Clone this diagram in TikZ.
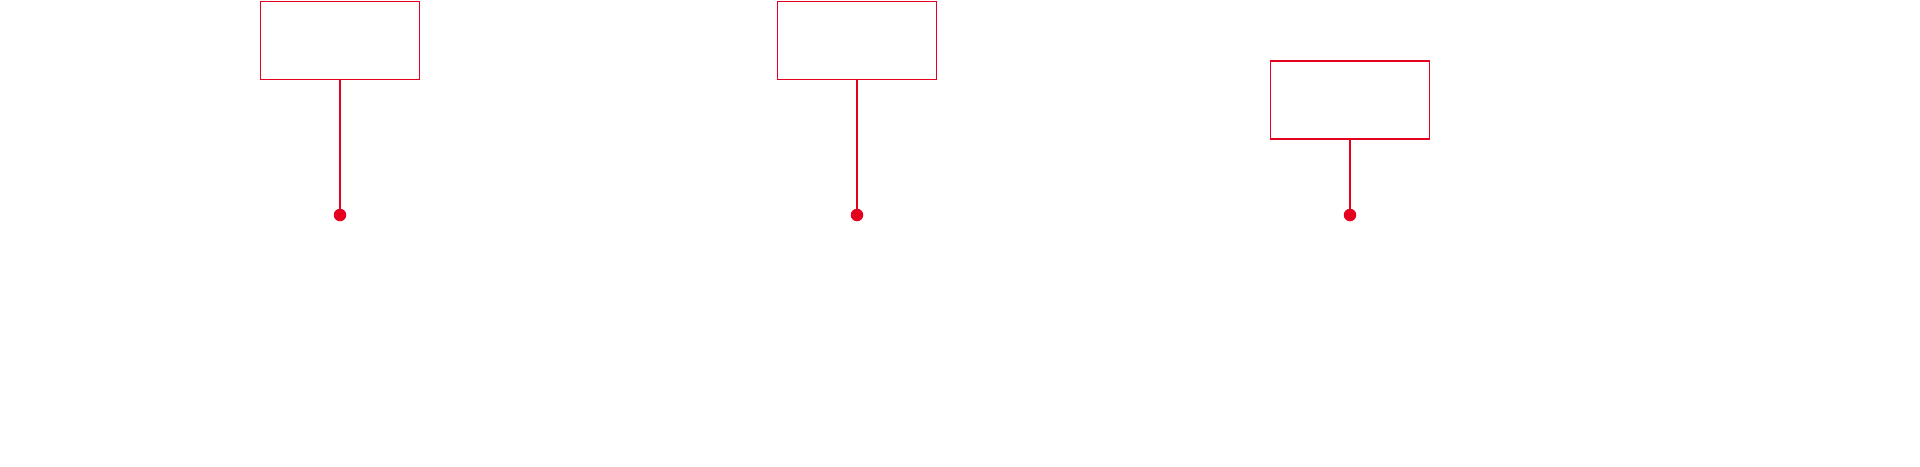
\documentclass[tikz,border=0pt]{standalone}
\definecolor{pinred}{HTML}{E60020}
\begin{document}
\begin{tikzpicture}[x=1pt,y=-1pt,
  pinbox/.style={draw=pinred,line width=1.3pt,minimum width=158.5pt,minimum height=78pt,inner sep=0pt,outer sep=0pt,fill=white},
  pindot/.style={circle,fill=pinred,draw=none,minimum size=12.5pt,inner sep=0pt,outer sep=0pt},
  pinline/.style={draw=pinred,line width=1.3pt}]
\useasboundingbox[fill=white] (0,0) rectangle (1920,466);
\node[pinbox] (b1) at (340,40.2) {};
\node[pinbox] (b2) at (857,40.2) {};
\node[pinbox] (b3) at (1350,100) {};
\node[pindot] (d1) at (340,215) {};
\node[pindot] (d2) at (857,215) {};
\node[pindot] (d3) at (1350,215) {};
\draw[pinline] (b1) -- (d1);
\draw[pinline] (b2) -- (d2);
\draw[pinline] (b3) -- (d3);
\end{tikzpicture}
\end{document}
